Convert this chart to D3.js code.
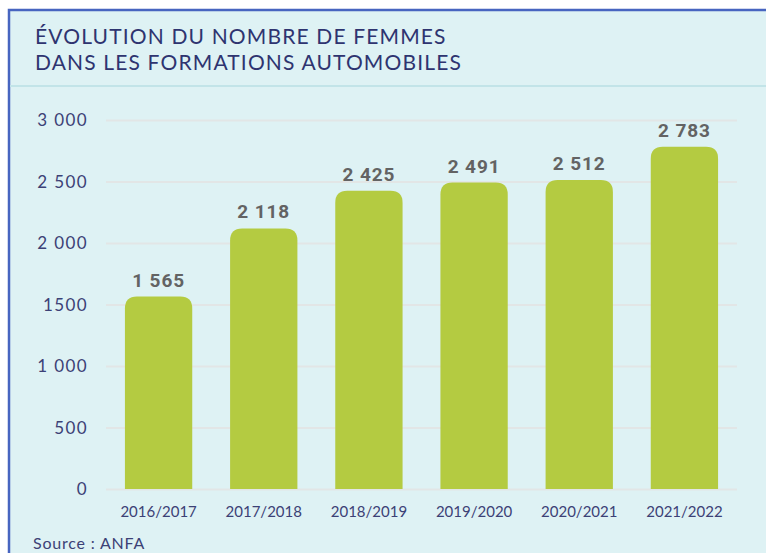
<!DOCTYPE html>
<html>
<head>
<meta charset="utf-8">
<script src="https://cdn.jsdelivr.net/npm/d3@7"></script>
<style>
  html, body { margin: 0; padding: 0; background: #fff; }
  svg { display: block; }
</style>
</head>
<body>
<svg id="chart" width="766" height="553"></svg>
<script>
// data
const seasons = ['2016/2017', '2017/2018', '2018/2019', '2019/2020', '2020/2021', '2021/2022'];
const women = [1565, 2118, 2425, 2491, 2512, 2783];
const tickValues = [0, 500, 1000, 1500, 2000, 2500, 3000];
const tickLabels = ['0', '500', '1 000', '1500', '2 000', '2 500', '3 000'];
const titleLines = ['ÉVOLUTION DU NOMBRE DE FEMMES', 'DANS LES FORMATIONS AUTOMOBILES'];
const sourceText = 'Source : ANFA';

const width = 766, height = 553;
const plot = { left: 106, right: 737, top: 120, bottom: 489 };
const font = 'Lato, "Open Sans", sans-serif';

const svg = d3.select('#chart');

// panel background + blue frame
svg.append('rect')
  .attr('x', 9).attr('y', 10)
  .attr('width', width).attr('height', height)
  .attr('fill', '#def2f4');
svg.append('path')
  .attr('d', `M9,${height} V10 H${width}`)
  .attr('fill', 'none')
  .attr('stroke', '#4765c0')
  .attr('stroke-width', 2.5);

// separator under the title
svg.append('line')
  .attr('x1', 10).attr('x2', width)
  .attr('y1', 86).attr('y2', 86)
  .attr('stroke', '#c2e4e8')
  .attr('stroke-width', 2);

// title
svg.append('text')
  .attr('x', 35).attr('y', 44)
  .attr('font-family', font)
  .attr('font-size', 21)
  .attr('letter-spacing', 1.15)
  .attr('fill', '#2e3470')
  .selectAll('tspan')
  .data(titleLines)
  .enter()
  .append('tspan')
  .attr('x', 35)
  .attr('dy', (d, i) => i === 0 ? 0 : 26)
  .text(d => d);

// scales
const x = d3.scaleBand()
  .domain(seasons)
  .range([plot.left, plot.right])
  .paddingInner(0.36)
  .paddingOuter(0.18);

const y = d3.scaleLinear()
  .domain([0, 3000])
  .range([plot.bottom, plot.top]);

// gridlines + y labels
const yAxis = svg.append('g')
  .call(d3.axisLeft(y)
    .tickValues(tickValues)
    .tickSize(-(plot.right - plot.left))
    .tickPadding(18)
    .tickFormat((d, i) => tickLabels[i]))
  .attr('transform', `translate(${plot.left}, 0)`);
yAxis.select('.domain').remove();
yAxis.selectAll('.tick line')
  .attr('stroke', '#e2e6e6')
  .attr('stroke-width', 2);
yAxis.selectAll('.tick text')
  .attr('font-family', font)
  .attr('font-size', 17)
  .attr('letter-spacing', 1.4)
  .attr('fill', '#3c4176')
  .attr('dy', '0.35em');

// bars with rounded tops
const r = 12;
const barPath = d => {
  const x0 = x(d.season), w = x.bandwidth();
  const y0 = y(d.value), yb = y(0);
  return `M${x0},${yb} V${y0 + r} Q${x0},${y0} ${x0 + r},${y0} H${x0 + w - r} Q${x0 + w},${y0} ${x0 + w},${y0 + r} V${yb} Z`;
};

const rows = seasons.map((s, i) => ({ season: s, value: women[i] }));

svg.append('g')
  .selectAll('path')
  .data(rows)
  .enter()
  .append('path')
  .attr('d', barPath)
  .attr('fill', '#b4cb41');

// value labels
svg.append('g')
  .selectAll('text')
  .data(rows)
  .enter()
  .append('text')
  .attr('x', d => x(d.season) + x.bandwidth() / 2)
  .attr('y', d => y(d.value) - 10)
  .attr('text-anchor', 'middle')
  .attr('font-family', 'Roboto, sans-serif')
  .attr('font-weight', 'bold')
  .attr('font-size', 19)
  .attr('letter-spacing', 0.9)
  .attr('fill', '#636363')
  .text(d => d3.format(',')(d.value).replace(',', ' '));

// x labels
const xAxis = svg.append('g')
  .attr('transform', `translate(0, ${plot.bottom})`)
  .call(d3.axisBottom(x).tickSize(0).tickPadding(17));
xAxis.select('.domain').remove();
xAxis.selectAll('.tick text')
  .attr('font-family', font)
  .attr('font-size', 15)
  .attr('fill', '#3c4176');

// source
svg.append('text')
  .attr('x', 33).attr('y', 549)
  .attr('font-family', font)
  .attr('font-size', 16)
  .attr('letter-spacing', 0.8)
  .attr('fill', '#3c4176')
  .text(sourceText);
</script>
</body>
</html>
